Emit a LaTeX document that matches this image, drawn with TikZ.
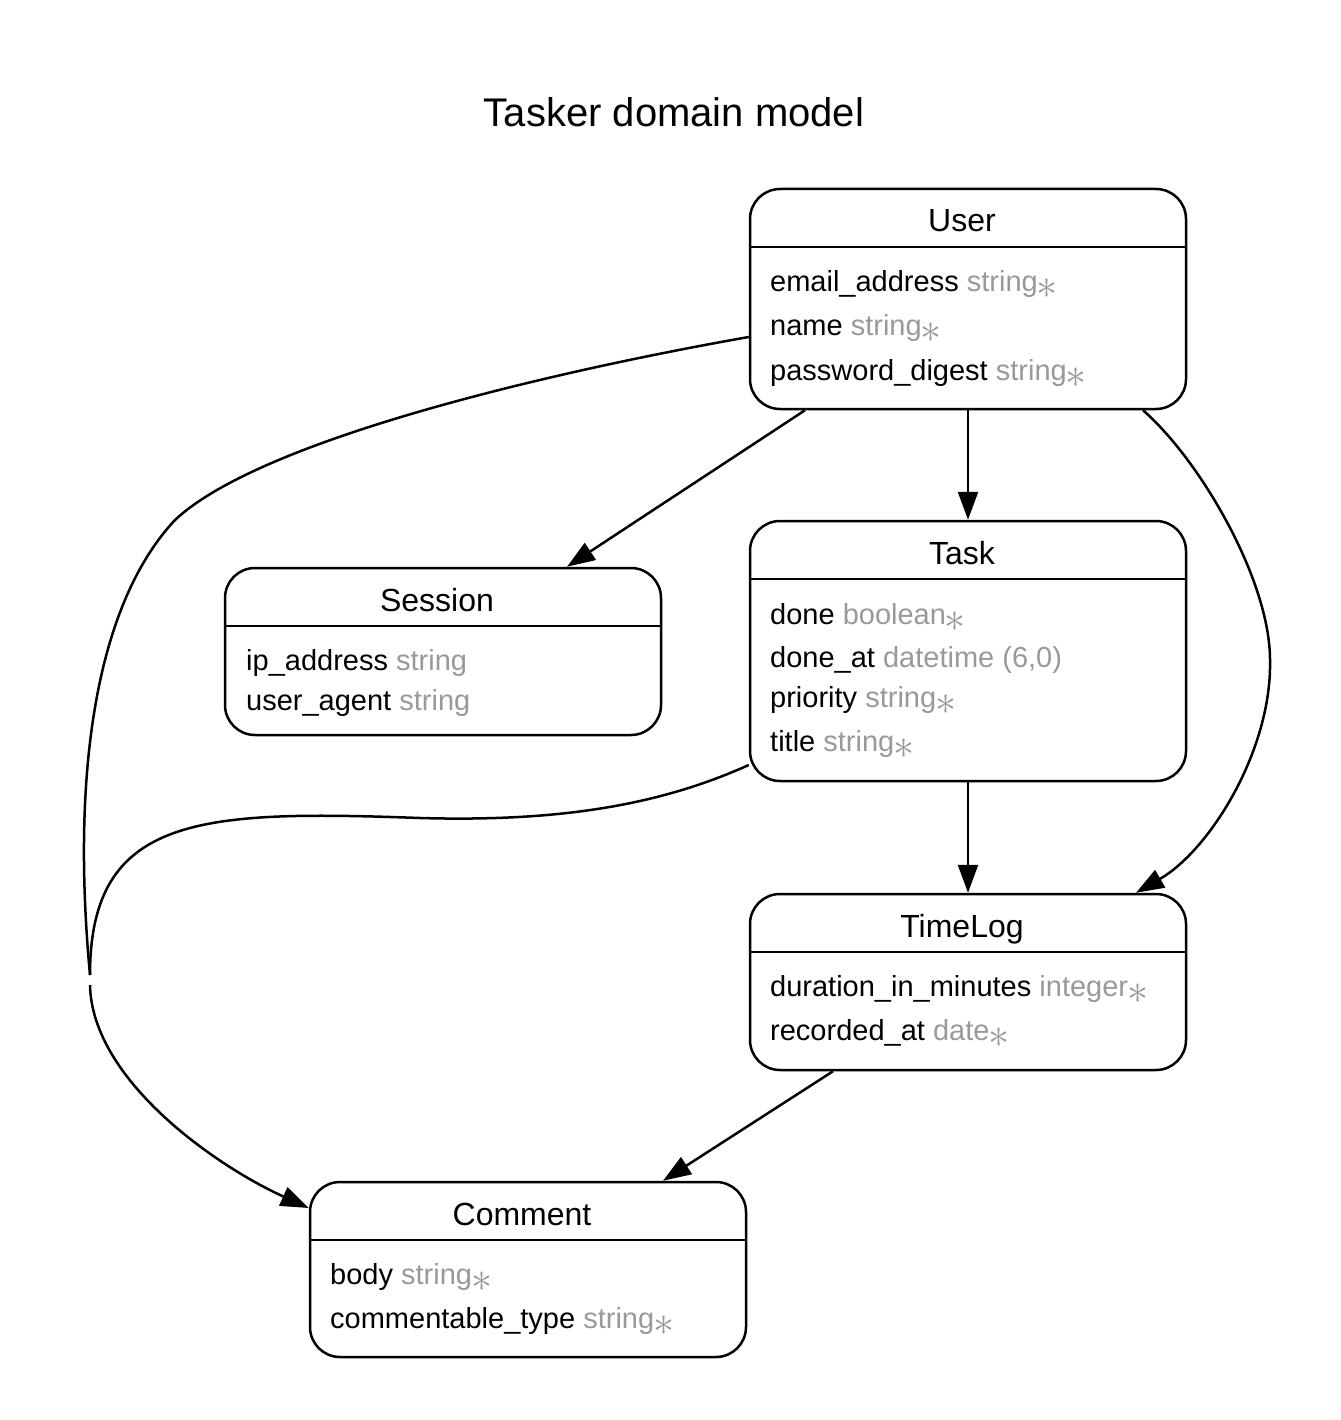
\RequirePackage{fix-cm}
\documentclass[tikz,border=0pt]{standalone}
\usepackage{fontspec}
\setmainfont{Liberation Sans}
\usetikzlibrary{arrows.meta}
\definecolor{attrgray}{HTML}{999999}
\newcommand{\typ}[1]{\textcolor{attrgray}{#1}}
\newcommand{\req}{\textcolor{attrgray}{\kern-1pt\raisebox{-7.5pt}{\scalebox{1.45}{$\ast$}}}}

\begin{document}
\begin{tikzpicture}[x=1pt,y=-1pt,
  entity/.style={draw, line width=2.5pt, rounded corners=30pt, inner sep=0pt, minimum width=436pt},
  ename/.style={anchor=base, inner sep=0pt, font=\fontsize{32}{38}\selectfont},
  attr/.style={anchor=base west, inner sep=0pt, font=\fontsize{29}{35}\selectfont},
  rel/.style={line width=2.5pt, -{Triangle[length=28pt,width=20pt]}},
  plain/.style={line width=2.5pt}]
\useasboundingbox (0,0) rectangle (1340,1420);

\node[anchor=base, font=\fontsize{40}{48}\selectfont] (title) at (674,127) {Tasker domain model};

\node[entity, minimum height=220pt] (U) at (968,299) {};
\node[entity, minimum height=167pt] (S) at (443,651.5) {};
\node[entity, minimum height=260pt] (T) at (968,651) {};
\node[entity, minimum height=176pt] (TL) at (968,982) {};
\node[entity, minimum height=175pt] (C) at (528,1269.5) {};

\node[ename] (Uh) at (962,232) {User};
\node[ename] (Sh) at (437,611) {Session};
\node[ename] (Th) at (962,564) {Task};
\node[ename] (TLh) at (962,937) {TimeLog};
\node[ename] (Ch) at (522,1225) {Comment};

\draw[plain] (U.west |- 0,247) -- (U.east |- 0,247);
\draw[plain] (S.west |- 0,626) -- (S.east |- 0,626);
\draw[plain] (T.west |- 0,579) -- (T.east |- 0,579);
\draw[plain] (TL.west |- 0,952) -- (TL.east |- 0,952);
\draw[plain] (C.west |- 0,1240) -- (C.east |- 0,1240);

\node[attr] (U1) at (770,291) {email\_address \typ{string}\req};
\node[attr] (U2) at (770,335) {name \typ{string}\req};
\node[attr] (U3) at (770,380) {password\_digest \typ{string}\req};

\node[attr] (S1) at (246,670) {ip\_address \typ{string}};
\node[attr] (S2) at (246,710) {user\_agent \typ{string}};

\node[attr] (T1) at (770,624) {done \typ{boolean}\req};
\node[attr] (T2) at (770,667) {done\_at \typ{datetime (6,0)}};
\node[attr] (T3) at (770,707) {priority \typ{string}\req};
\node[attr] (T4) at (770,751) {title \typ{string}\req};

\node[attr] (TL1) at (770,996) {duration\_in\_minutes \typ{integer}\req};
\node[attr] (TL2) at (770,1040) {recorded\_at \typ{date}\req};

\node[attr] (C1) at (330,1284) {body \typ{string}\req};
\node[attr] (C2) at (330,1328) {commentable\_type \typ{string}\req};

\coordinate (M1) at (90,975);
\coordinate (M2) at (90,985);

\draw[rel] ([xshift=-163pt]U.south) -- ([xshift=124pt]S.north);
\draw[rel] (U.south) -- (T.north);
\draw[rel] ([xshift=175pt]U.south) .. controls (1200,460) and (1270,580) .. (1270,660)
  .. controls (1272,750) and (1210,850) .. ([xshift=168pt]TL.north);
\draw[rel] (T.south) -- (TL.north);
\draw[rel] ([xshift=-135pt]TL.south) -- ([xshift=135pt]C.north);

\draw[plain] ([yshift=-38pt]U.west) .. controls (550,372) and (260,440) .. (175,520)
  .. controls (100,600) and (70,760) .. (M1);
\draw[plain] ([yshift=-114pt]T.west) .. controls (660,805) and (560,822) .. (420,818)
  .. controls (200,810) and (90,815) .. (M1);
\draw[rel] (M2) .. controls (92,1080) and (216,1166) .. (C.west |- 0,1208);
\end{tikzpicture}
\end{document}
